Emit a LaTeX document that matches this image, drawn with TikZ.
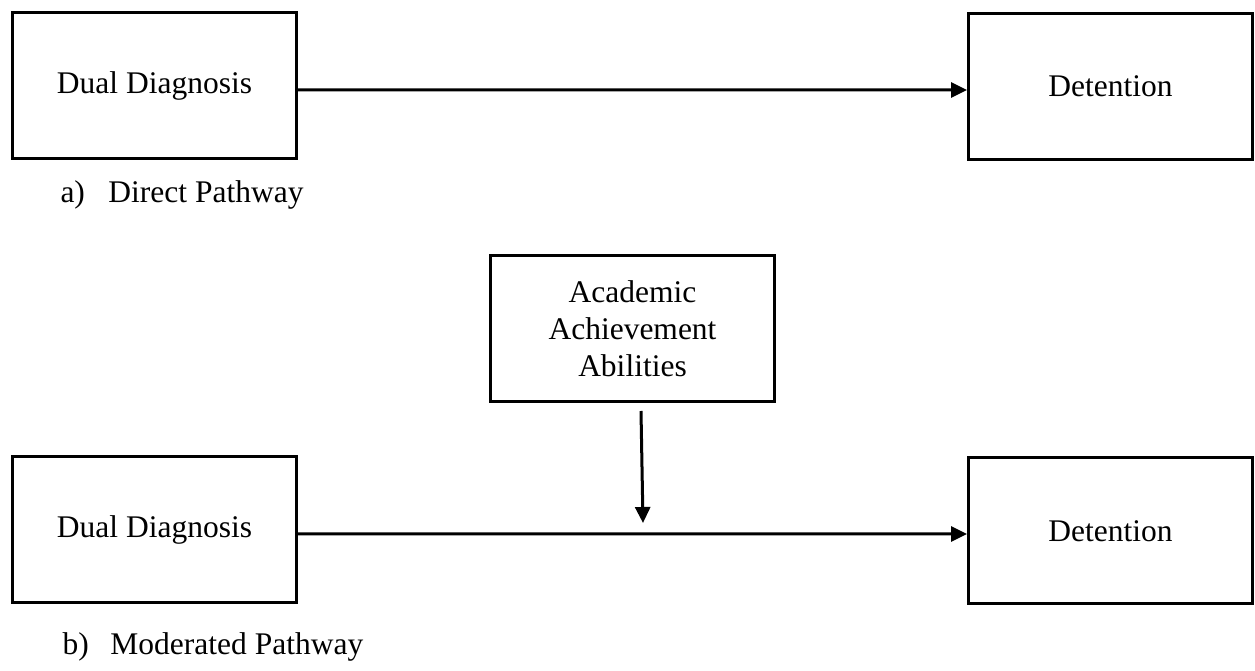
\documentclass[tikz,border=0pt]{standalone}
\usepackage{fontspec}
\setmainfont{Liberation Serif}
\usepackage{tikz}
\usetikzlibrary{arrows.meta}

\begin{document}
\begin{tikzpicture}[
    x=0.4pt, y=-0.4pt,
    box/.style={
        rectangle,
        draw=black,
        line width=1.2pt,
        minimum width=113.6pt,
        minimum height=58.4pt,
        align=center,
        font=\fontsize{12.6}{14.8}\selectfont
    },
    arrow/.style={
        -{Triangle[length=6.4pt, width=6pt]},
        line width=1.2pt,
        color=black
    },
    caption/.style={
        anchor=base west,
        inner sep=0pt,
        font=\fontsize{12.6}{14.8}\selectfont
    }
]
\useasboundingbox (0,0) rectangle (1255,671);

% a) direct pathway
\node[box] (dualA) at (154.5,85.5)  {Dual Diagnosis};
\node[box] (detA)  at (1110.5,86.5) {Detention};
\draw[arrow] ([yshift=-1.8pt]dualA.east) -- ([yshift=-1.4pt]detA.west);
\node[caption] (capA) at (60,203) {\makebox[19.2pt][l]{a)}Direct Pathway};

% b) moderated pathway
\node[box] (acad)  at (632.5,328.5) {Academic\\Achievement\\Abilities};
\node[box] (dualB) at (154.5,529.5) {Dual Diagnosis};
\node[box] (detB)  at (1110.5,531)  {Detention};
\draw[arrow] ([yshift=-1.8pt]dualB.east) -- ([yshift=-1.2pt]detB.west);
\coordinate (modtip) at (643,523);
\draw[arrow] ([shift={(8.5,8)}]acad.south) -- (modtip);
\node[caption] (capB) at (62,655) {\makebox[19.2pt][l]{b)}Moderated Pathway};

\end{tikzpicture}
\end{document}
